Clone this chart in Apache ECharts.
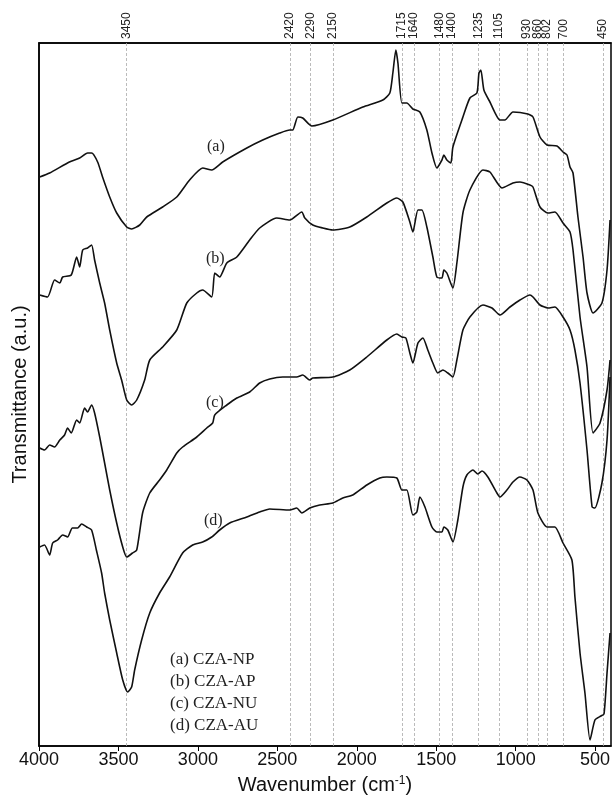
<!DOCTYPE html>
<html>
<head>
<meta charset="utf-8">
<script src="https://cdn.jsdelivr.net/npm/echarts@6/dist/echarts.min.js"></script>
<style>
  html, body { margin: 0; padding: 0; background: #fff; }
  #ftir { width: 613px; height: 798px; }
</style>
</head>
<body>
<div id="ftir"></div>
<script>
// wavenumber (cm-1), transmittance (a.u., offset curves)
var curveA = [
  [3996,569],[3933,573],[3809,584],[3744,588],[3694,593],[3669,593],[3631,584],[3600,569],
  [3555,549],[3511,533],[3448,519],[3417,517],[3366,521],[3322,529],[3222,539],[3133,549],
  [3052,566],[2970,578],[2913,576],[2844,584],[2692,598],[2592,606],[2485,613],[2422,616],
  [2403,616],[2371,629],[2340,628],[2283,620],[2151,626],[1962,639],[1836,646],[1792,653],
  [1773,673],[1754,696],[1741,683],[1716,643],[1685,643],[1647,637],[1603,634],[1559,616],
  [1527,593],[1496,578],[1464,586],[1452,591],[1433,586],[1408,583],[1395,599],[1332,629],
  [1288,648],[1244,653],[1231,673],[1219,676],[1200,656],[1162,644],[1099,626],[1068,626],
  [1017,634],[923,632],[891,629],[847,609],[803,601],[740,600],[702,594],[677,591],
  [658,579],[639,573],[608,529],[576,489],[551,453],[513,433],[457,443],[425,476],[406,526]
];
var curveB = [
  [3996,451],[3946,449],[3902,466],[3869,463],[3851,469],[3797,471],[3763,489],[3744,479],
  [3725,496],[3694,498],[3669,501],[3650,486],[3618,463],[3587,443],[3555,416],[3511,383],
  [3480,366],[3448,346],[3417,341],[3385,346],[3335,366],[3303,386],[3222,399],[3133,416],
  [3070,443],[3007,453],[2970,456],[2913,449],[2894,473],[2863,469],[2818,483],[2755,489],
  [2674,506],[2611,518],[2504,528],[2422,526],[2346,534],[2327,528],[2277,521],[2214,518],
  [2151,516],[2044,519],[1937,529],[1811,543],[1748,548],[1710,544],[1666,524],[1647,514],
  [1615,536],[1590,536],[1559,519],[1521,489],[1496,469],[1464,468],[1452,476],[1433,473],
  [1395,458],[1370,483],[1332,533],[1288,556],[1206,576],[1162,574],[1086,558],[1017,563],
  [973,564],[910,561],[891,559],[847,539],[797,533],[753,534],[702,523],[658,514],
  [639,496],[595,429],[551,379],[513,313],[469,323],[425,356],[406,386]
];
var curveC = [
  [3996,298],[3965,296],[3933,301],[3902,299],[3869,306],[3839,311],[3820,318],[3797,313],
  [3763,326],[3744,323],[3713,338],[3694,334],[3669,341],[3650,333],[3618,309],[3587,283],
  [3555,256],[3511,223],[3473,199],[3448,189],[3411,193],[3385,196],[3348,233],[3303,253],
  [3241,266],[3196,276],[3133,293],[3096,299],[3007,309],[2944,318],[2907,323],[2894,331],
  [2818,341],[2755,348],[2674,354],[2611,363],[2548,367],[2466,369],[2378,369],[2340,371],
  [2296,366],[2277,368],[2151,369],[2044,376],[1937,389],[1811,406],[1748,412],[1716,409],
  [1691,408],[1666,393],[1647,383],[1615,403],[1584,408],[1553,396],[1521,383],[1490,373],
  [1458,376],[1427,373],[1395,369],[1370,386],[1332,416],[1288,429],[1206,441],[1149,438],
  [1099,431],[1036,439],[973,446],[910,451],[891,449],[847,441],[797,438],[753,439],
  [702,429],[658,416],[627,396],[595,363],[551,296],[519,239],[501,238],[457,263],
  [425,306],[406,369]
];
var curveD = [
  [3996,199],[3965,201],[3933,191],[3914,203],[3883,206],[3851,211],[3820,209],[3790,218],
  [3757,218],[3732,222],[3700,219],[3669,216],[3639,196],[3606,173],[3587,153],[3555,126],
  [3511,93],[3473,66],[3442,54],[3417,59],[3398,76],[3354,106],[3303,133],[3241,153],
  [3178,169],[3096,193],[3033,201],[2970,204],[2913,209],[2863,216],[2800,223],[2692,229],
  [2611,234],[2548,237],[2422,236],[2378,238],[2346,233],[2296,238],[2233,241],[2151,243],
  [2088,248],[2025,251],[1937,261],[1855,268],[1811,269],[1748,268],[1716,256],[1685,256],
  [1647,231],[1622,234],[1603,249],[1571,239],[1527,219],[1496,214],[1464,214],[1452,219],
  [1427,216],[1395,204],[1364,226],[1332,259],[1307,271],[1269,276],[1238,272],[1212,275],
  [1175,269],[1118,253],[1099,249],[1055,256],[1017,264],[973,269],[929,266],[891,256],
  [860,233],[803,219],[753,219],[702,203],[646,186],[627,149],[595,93],[564,53],
  [532,6],[501,26],[463,30],[444,32],[425,73],[406,113]
];

var seriesNames = ['(a) CZA-NP', '(b) CZA-AP', '(c) CZA-NU', '(d) CZA-AU'];
var bandLabels = [3450, 2420, 2290, 2150, 1715, 1640, 1480, 1400, 1235, 1105, 930, 860, 802, 700, 510, 450];
var xTicks = [500, 1000, 1500, 2000, 2500, 3000, 3500, 4000];

var chart = echarts.init(document.getElementById('ftir'));

function makeSeries(name, data) {
  return {
    name: name,
    type: 'line',
    data: data,
    showSymbol: false,
    symbol: 'none',
    smooth: 0.2,
    lineStyle: { color: '#111', width: 1.6 },
    itemStyle: { color: '#111' }
  };
}

function plain(v) {
  return String(v);
}

chart.setOption({
  animation: false,
  grid: {
    left: 39, right: 2, top: 43, bottom: 52,
    outerBoundsMode: 'none',
    show: true, borderColor: '#000', borderWidth: 1.5
  },
  legend: {
    orient: 'vertical',
    left: 160,
    top: 646,
    icon: 'none',
    itemWidth: 0,
    itemGap: 5,
    data: seriesNames,
    textStyle: { fontFamily: 'Liberation Serif', fontSize: 17, color: '#222' },
    selectedMode: false
  },
  xAxis: [
    {
      type: 'value',
      position: 'bottom',
      min: 400, max: 4000,
      inverse: true,
      axisLine: { show: true, lineStyle: { color: '#000', width: 1.5 } },
      axisTick: { show: true, customValues: xTicks, length: 5, lineStyle: { color: '#000' } },
      axisLabel: {
        customValues: xTicks,
        formatter: plain,
        fontFamily: 'Liberation Sans', fontSize: 18, color: '#111', margin: 5
      },
      splitLine: { show: false },
      name: 'Wavenumber (cm{sup|-1})',
      nameLocation: 'middle',
      nameGap: 29,
      nameTextStyle: {
        fontFamily: 'Liberation Sans', fontSize: 20, color: '#111',
        rich: { sup: { fontFamily: 'Liberation Sans', fontSize: 12, verticalAlign: 'top', color: '#111' } }
      }
    },
    {
      type: 'value',
      position: 'top',
      min: 400, max: 4000,
      inverse: true,
      axisLine: { show: true, lineStyle: { color: '#000', width: 1.5 } },
      axisTick: {
        show: true, inside: true, length: 703, customValues: bandLabels,
        lineStyle: { color: '#aaa', width: 0.8, type: [3, 2] }
      },
      axisLabel: {
        customValues: bandLabels,
        formatter: plain,
        rotate: -90,
        hideOverlap: false,
        showMinLabel: true,
        showMaxLabel: true,
        fontFamily: 'Liberation Sans', fontSize: 12, color: '#222', margin: 4
      },
      splitLine: { show: false }
    }
  ],
  yAxis: {
    type: 'value',
    min: 0, max: 703,
    axisLine: { show: true, lineStyle: { color: '#000', width: 1.5 } },
    axisTick: { show: false },
    axisLabel: { show: false },
    splitLine: { show: false },
    name: 'Transmittance (a.u.)',
    nameLocation: 'middle',
    nameGap: 9,
    nameTextStyle: { fontFamily: 'Liberation Sans', fontSize: 20, color: '#111' }
  },
  graphic: [
    { type: 'text', left: 207, top: 139, style: { text: '(a)', font: '16px "Liberation Serif"', fill: '#222' } },
    { type: 'text', left: 206, top: 251, style: { text: '(b)', font: '16px "Liberation Serif"', fill: '#222' } },
    { type: 'text', left: 206, top: 395, style: { text: '(c)', font: '16px "Liberation Serif"', fill: '#222' } },
    { type: 'text', left: 204, top: 513, style: { text: '(d)', font: '16px "Liberation Serif"', fill: '#222' } }
  ],
  series: [
    makeSeries(seriesNames[0], curveA),
    makeSeries(seriesNames[1], curveB),
    makeSeries(seriesNames[2], curveC),
    makeSeries(seriesNames[3], curveD)
  ]
});
</script>
</body>
</html>
